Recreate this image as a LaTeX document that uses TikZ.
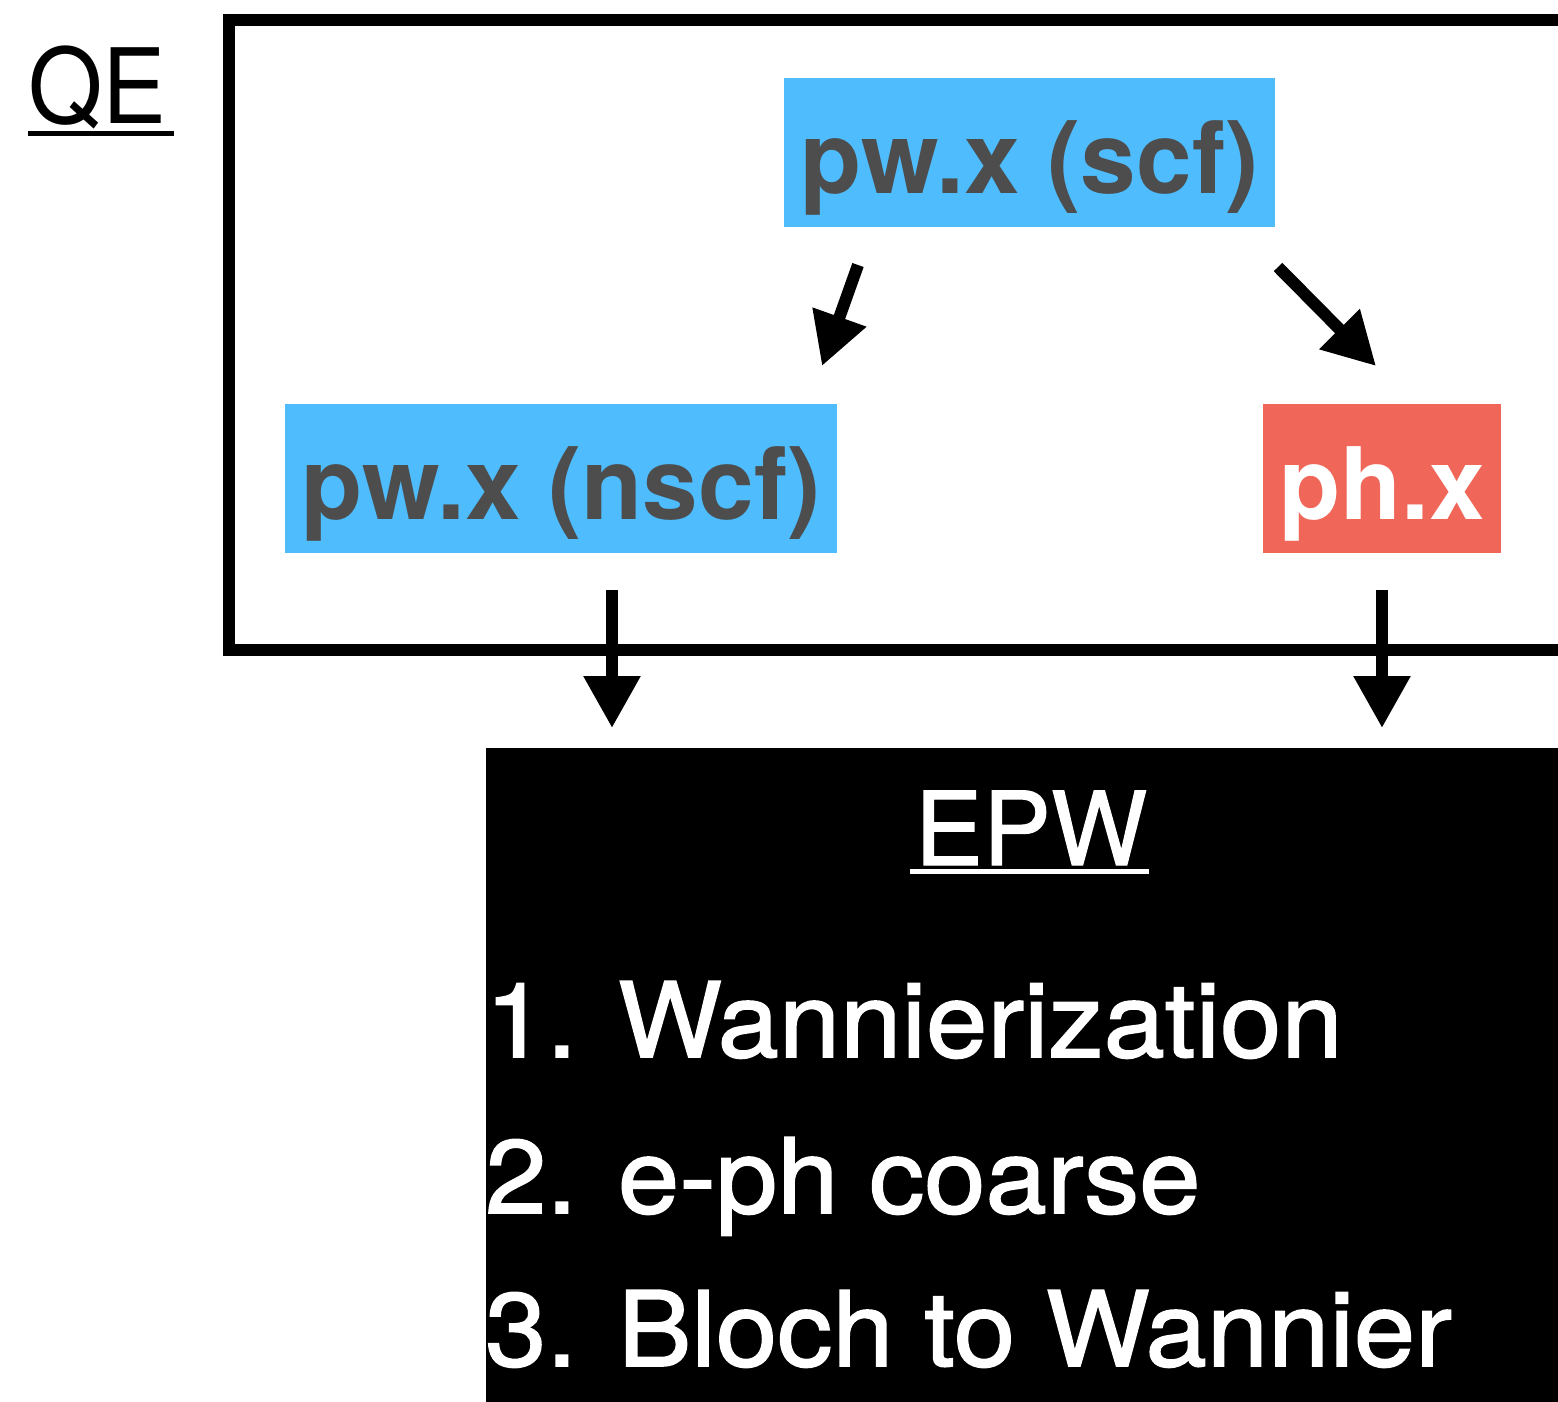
\documentclass[tikz,border=0pt]{standalone}
\usepackage{fontspec}
\setmainfont{TeX Gyre Heros}
\newfontfamily\medfont[FakeStretch=1.06,RawFeature={embolden=1.5}]{TeX Gyre Heros}
\newfontfamily\titlefont[RawFeature={embolden=1.2}]{TeX Gyre Heros}
\newfontfamily\qefont[FakeStretch=0.92]{TeX Gyre Heros}
\usetikzlibrary{arrows.meta}
\definecolor{qeblue}{HTML}{4EBCFD}
\definecolor{qered}{HTML}{F06658}
\definecolor{qegray}{HTML}{4D4D4D}
\tikzset{
  prog/.style={inner sep=0pt, text height=115pt, text depth=34pt, anchor=base,
    font=\fontsize{100}{120}\selectfont\bfseries},
  flow/.style={line width=12pt, -{Triangle[length=52pt,width=54pt]}},
  listtext/.style={inner sep=0pt, anchor=base west, text=white,
    font=\fontsize{104}{120}\selectfont\medfont},
}
\begin{document}
\begin{tikzpicture}[x=1pt,y=-1pt]
\useasboundingbox (0,0) rectangle (1558,1401);
\clip (0,0) rectangle (1558,1401);
% QE frame
\draw[line width=12pt] (229,20) rectangle (1590,650);
\node[inner sep=0pt, anchor=base west, font=\fontsize{104}{120}\selectfont\qefont] (qe) at (28,123) {QE};
\fill (28,130.5) rectangle (174,135.5);
% program boxes
\node[prog, fill=qeblue, text=qegray, minimum width=491pt] (scf) at (1029.5,193) {pw.x (scf)};
\node[prog, fill=qeblue, text=qegray, minimum width=552pt] (nscf) at (561,519) {pw.x (nscf)};
\node[prog, fill=qered, text=white, minimum width=238pt] (ph) at (1382,519) {ph.x};
% EPW box
\fill[black] (486,748) rectangle (1600,1420);
\node[inner sep=0pt, anchor=base, text=white, font=\fontsize{102}{120}\selectfont\titlefont] (epw) at (1031,865) {EPW};
\fill[white] (910,868.5) rectangle (1149,873.5);
\node[listtext] (l1) at (485,1057) {1. Wannierization};
\node[listtext] (l2) at (485,1213) {2. e-ph coarse};
\node[listtext] (l3) at (485,1366) {3. Bloch to Wannier};
% connectors
\coordinate (a1s) at (858,265);
\coordinate (a1e) at (822,366);
\coordinate (a2s) at (1278,267);
\coordinate (a2e) at (1376,366);
\coordinate (a3s) at (612,590);
\coordinate (a3e) at (612,728);
\coordinate (a4s) at (1382,590);
\coordinate (a4e) at (1382,728);
\draw[flow] (a1s) -- (a1e);
\draw[flow] (a2s) -- (a2e);
\draw[flow] (a3s) -- (a3e);
\draw[flow] (a4s) -- (a4e);
\end{tikzpicture}
\end{document}
